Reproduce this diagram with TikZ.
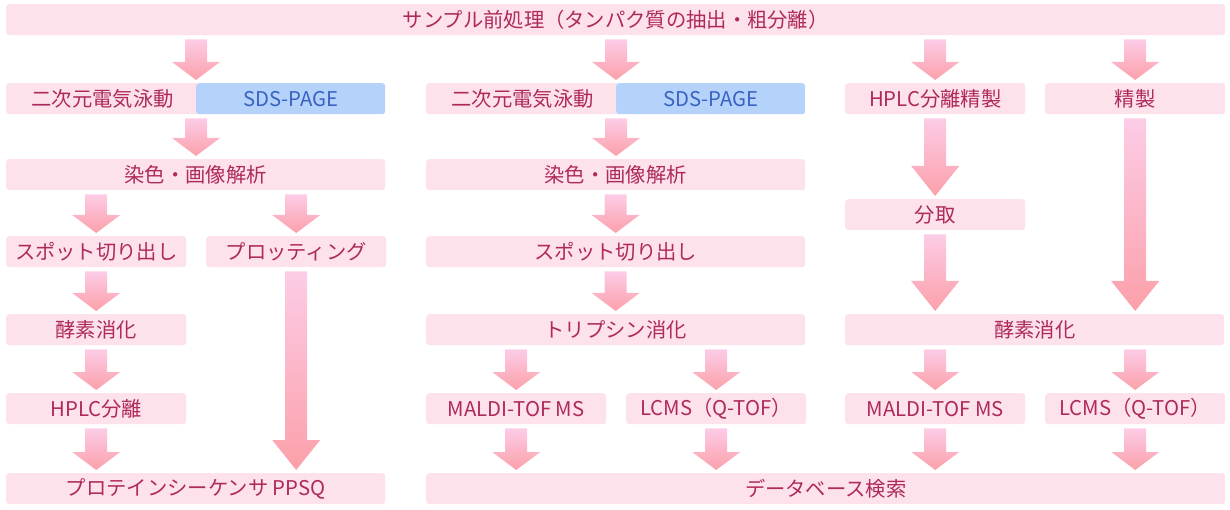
\documentclass[tikz,border=0pt]{standalone}
\usepackage{fontspec}
\setmainfont{Noto Sans CJK JP}
\usetikzlibrary{calc,positioning}

\definecolor{boxpink}{HTML}{FDE1EB}
\definecolor{textred}{HTML}{AE2A5C}
\definecolor{sdsblue}{HTML}{B4D2FA}
\definecolor{sdstext}{HTML}{3A62C2}
\definecolor{arrtop}{HTML}{FCCCE6}
\definecolor{arrbot}{HTML}{FCA0AA}

\tikzset{
  box/.style={fill=boxpink, text=textred, rounded corners=3pt, inner sep=0pt,
    minimum height=31pt, anchor=north west, font=\fontsize{20.3}{20.3}\selectfont},
  wide/.style={box, minimum width=379pt},
  half/.style={box, minimum width=180pt},
  sds/.style={box, fill=sdsblue, text=sdstext, minimum width=189pt},
}

% block arrow: [head length]{x ref}{from}{to}
\newcommand{\flowarrow}[4][18]{%
  \path ($(#2 |- #3.south)+(0,4)$) coordinate (fa)
        ($(#2 |- #4.north)+(0,-3)$) coordinate (fb);
  \shade[top color=arrtop, bottom color=arrbot]
    ($(fa)+(-11,0)$) -- ($(fa)+(11,0)$) -- ($(fb)+(11,-#1)$) -- ($(fb)+(24,-#1)$)
    -- (fb) -- ($(fb)+(-24,-#1)$) -- ($(fb)+(-11,-#1)$) -- cycle;
}

\begin{document}
\begin{tikzpicture}[x=1pt, y=-1pt]

    \useasboundingbox (0,0) rectangle (1230,510);

    \node[box, minimum width=1219pt] (pre) at (6,4) {サンプル前処理（タンパク質の抽出・粗分離）};

    \node[box, minimum width=193pt] (gelA) at (6,83) {二次元電気泳動};
    \node[sds] (sdsA) at (196,83) {SDS-PAGE};
    \node[box, minimum width=193pt] (gelB) at (426,83) {二次元電気泳動};
    \node[sds] (sdsB) at (616,83) {SDS-PAGE};
    \node[half] (hplcC) at (845,83) {HPLC分離精製};
    \node[half] (purC) at (1045,83) {精製};

    \node[wide] (stainA) at (6,159) {染色・画像解析};
    \node[wide] (stainB) at (426,159) {染色・画像解析};
    \node[half] (fracC) at (845,199) {分取};

    \node[half] (spotA) at (6,236) {スポット切り出し};
    \node[half] (plotA) at (206,236) {プロッティング};
    \node[wide] (spotB) at (426,236) {スポット切り出し};

    \node[half] (enzA) at (6,314) {酵素消化};
    \node[wide] (tryB) at (426,314) {トリプシン消化};
    \node[wide] (enzC) at (845,314) {酵素消化};

    \node[half] (hplcA) at (6,393) {HPLC分離};
    \node[half] (maldiB) at (426,393) {MALDI-TOF MS};
    \node[half] (lcmsB) at (626,393) {LCMS（Q-TOF）};
    \node[half] (maldiC) at (845,393) {MALDI-TOF MS};
    \node[half] (lcmsC) at (1045,393) {LCMS（Q-TOF）};

    \node[wide] (ppsq) at (6,473) {プロテインシーケンサ PPSQ};
    \node[box, minimum width=799pt] (db) at (426,473) {データベース検索};

    \flowarrow{sdsA.west}{pre}{gelA}
    \flowarrow{sdsB.west}{pre}{gelB}
    \flowarrow{hplcC}{pre}{hplcC}
    \flowarrow{purC}{pre}{purC}

    \flowarrow{sdsA.west}{gelA}{stainA}
    \flowarrow{sdsB.west}{gelB}{stainB}
    \flowarrow[30]{fracC}{hplcC}{fracC}
    \flowarrow[30]{purC}{purC}{enzC}
    \flowarrow[30]{fracC}{fracC}{enzC}

    \flowarrow{spotA}{stainA}{spotA}
    \flowarrow{plotA}{stainA}{plotA}
    \flowarrow{spotA}{spotA}{enzA}
    \flowarrow{enzA}{enzA}{hplcA}
    \flowarrow{hplcA}{hplcA}{ppsq}
    \flowarrow[30]{plotA}{plotA}{ppsq}

    \flowarrow{spotB}{stainB}{spotB}
    \flowarrow{spotB}{spotB}{tryB}
    \flowarrow{maldiB}{tryB}{maldiB}
    \flowarrow{lcmsB}{tryB}{lcmsB}
    \flowarrow{maldiB}{maldiB}{db}
    \flowarrow{lcmsB}{lcmsB}{db}

    \flowarrow{maldiC}{enzC}{maldiC}
    \flowarrow{lcmsC}{enzC}{lcmsC}
    \flowarrow{maldiC}{maldiC}{db}
    \flowarrow{lcmsC}{lcmsC}{db}

\end{tikzpicture}
\end{document}
